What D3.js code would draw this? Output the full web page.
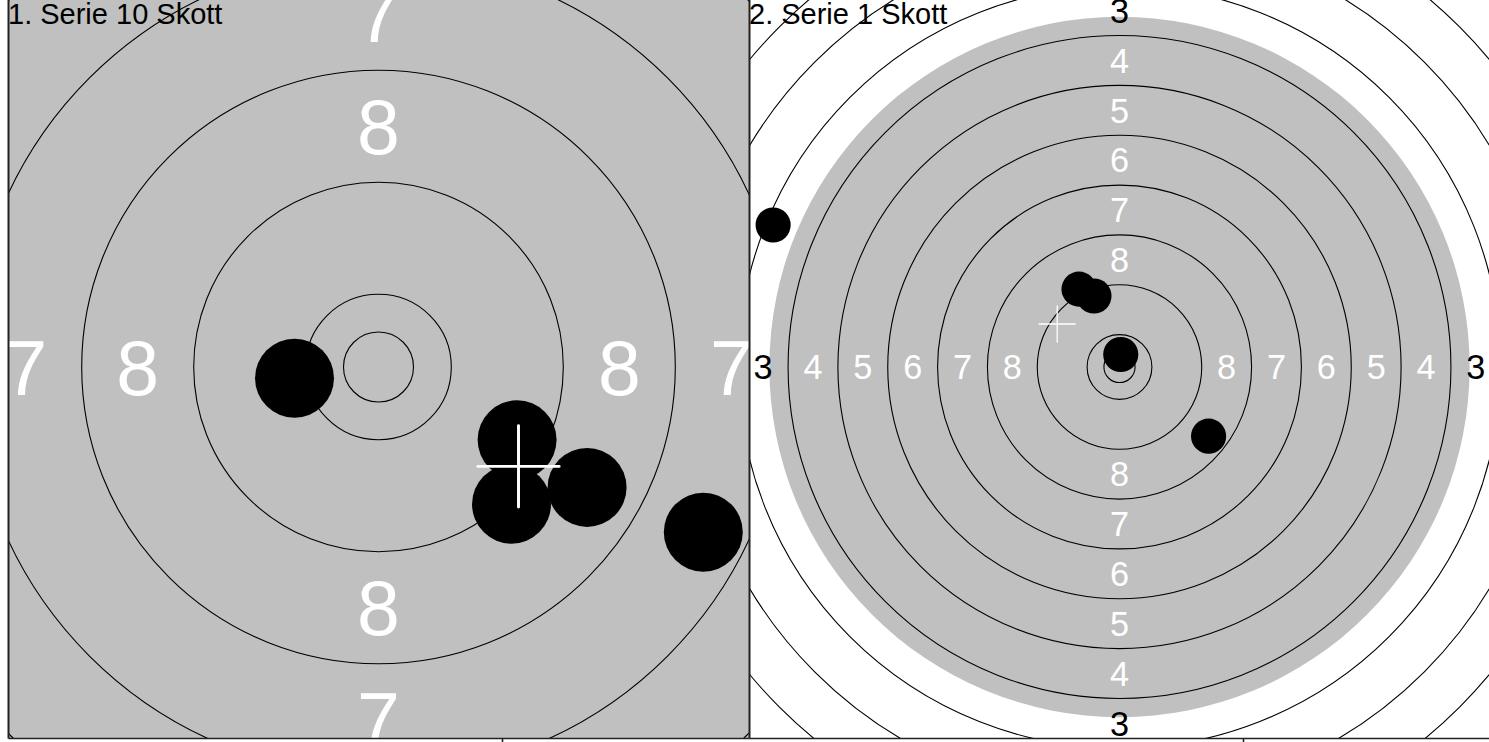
<!DOCTYPE html>
<html>
<head>
<meta charset="utf-8">
<script src="https://cdn.jsdelivr.net/npm/d3@7/dist/d3.min.js"></script>
<style>
  body { margin: 0; background: #fff; }
  svg { display: block; font-family: "Liberation Sans", Arial, sans-serif; }
  .ring { fill: none; stroke: #000; stroke-width: 1.1; }
  .axis path, .axis line { stroke: #222; }
</style>
</head>
<body>
<script>
// Serie titles, one per panel
var TITLES = ['1. Serie 10 Skott', '2. Serie 1 Skott'];

// Ring radii in mm (50 m rifle target), inner ten first, then 10 ... 1
var RING_RADII = [2.5, 5.2, 13.2, 21.2, 29.2, 37.2, 45.2, 53.2, 61.2, 69.2, 77.2];
var RING_VALUES = [null, 10, 9, 8, 7, 6, 5, 4, 3, 2, 1];
var BLACK_RADIUS = 56.2;          // aiming mark, drawn grey
var LABELED_RINGS = [8, 7, 6, 5, 4, 3, 2, 1];

// Shot positions in mm from the centre [x, y], y upwards
var SHOTS_1 = [[-6.0, -0.8], [9.9, -5.2], [9.5, -9.8], [14.9, -8.6], [23.2, -11.8]];
var SHOTS_2 = [[-55.6, 22.8], [-6.5, 12.5], [-4.1, 11.4], [0.2, 2.0], [14.3, -11.1]];
// Mean point of impact per serie
var MEAN_1 = [10.0, -7.1];
var MEAN_2 = [-10.0, 6.9];
var SHOT_RADIUS = 2.82;   // .22 cal hole
var CROSS_HALF = 2.9;

// bottom axis tick (labels fall below the visible area)
var AXIS_TICKS = [1];

(function () {
  var W = 1489, H = 742;
  var svg = d3.select('body').append('svg').attr('width', W).attr('height', H);

  var panels = [
    { title: TITLES[0], shots: SHOTS_1, mean: MEAN_1, k: 14.0, left: 8 },
    { title: TITLES[1], shots: SHOTS_2, mean: MEAN_2, k: 6.23, left: 749 }
  ];
  var pw = 741, plotTop = -4, plotBottom = 738;

  panels.forEach(function (p, i) {
    var halfW = pw / 2 / p.k, halfH = (plotBottom - plotTop) / 2 / p.k;
    var x = d3.scaleLinear().domain([-halfW, halfW]).range([p.left, p.left + pw]);
    var y = d3.scaleLinear().domain([-halfH, halfH]).range([plotBottom, plotTop]);
    var r = function (mm) { return mm * p.k; };

    var clipId = 'clip' + i;
    svg.append('clipPath').attr('id', clipId).append('rect')
      .attr('x', p.left).attr('y', 0).attr('width', pw).attr('height', plotBottom);

    var g = svg.append('g').attr('clip-path', 'url(#' + clipId + ')');

    // aiming mark
    g.append('circle').attr('cx', x(0)).attr('cy', y(0)).attr('r', r(BLACK_RADIUS))
      .attr('fill', '#c0c0c0');

    // rings
    g.selectAll('circle.ring').data(RING_RADII).join('circle').attr('class', 'ring')
      .attr('cx', x(0)).attr('cy', y(0)).attr('r', function (d) { return r(d); });

    // ring numbers, four directions
    var labelData = [];
    LABELED_RINGS.forEach(function (v) {
      var idx = RING_VALUES.indexOf(v);
      var mid = (RING_RADII[idx] + RING_RADII[idx - 1]) / 2;
      [[0, 1], [0, -1], [-1, 0], [1, 0]].forEach(function (dir) {
        labelData.push({ v: v, at: [dir[0] * mid, dir[1] * mid], inside: mid < BLACK_RADIUS });
      });
    });
    var fs = 5.5 * p.k;
    g.selectAll('text.ringlab').data(labelData).join('text').attr('class', 'ringlab')
      .attr('x', function (d) { return x(d.at[0]); })
      .attr('y', function (d) { return y(d.at[1]) + 0.358 * fs; })
      .attr('text-anchor', 'middle')
      .style('font-size', fs + 'px')
      .attr('fill', function (d) { return d.inside ? '#fff' : '#000'; })
      .text(function (d) { return d.v; });

    // shots
    g.selectAll('circle.shot').data(p.shots).join('circle').attr('class', 'shot')
      .attr('cx', function (d) { return x(d[0]); })
      .attr('cy', function (d) { return y(d[1]); })
      .attr('r', r(SHOT_RADIUS)).attr('fill', '#000');

    // mean point of impact
    var cw = r(0.21);
    g.append('line')
      .attr('x1', x(p.mean[0] - CROSS_HALF)).attr('x2', x(p.mean[0] + CROSS_HALF))
      .attr('y1', y(p.mean[1])).attr('y2', y(p.mean[1]))
      .attr('stroke', '#fff').attr('stroke-width', cw).attr('stroke-linecap', 'round');
    g.append('line')
      .attr('x1', x(p.mean[0])).attr('x2', x(p.mean[0]))
      .attr('y1', y(p.mean[1] - CROSS_HALF)).attr('y2', y(p.mean[1] + CROSS_HALF))
      .attr('stroke', '#fff').attr('stroke-width', cw).attr('stroke-linecap', 'round');

    // axes
    var ax = d3.scaleLinear().domain([0, 1.5]).range([p.left, p.left + pw]);
    svg.append('g').attr('class', 'axis').attr('transform', 'translate(0,' + plotBottom + ')')
      .call(d3.axisBottom(ax).tickValues(AXIS_TICKS).tickSize(5).tickSizeOuter(0).tickFormat(''))
      .selectAll('path, line').attr('stroke-width', 1.6);
    svg.append('g').attr('class', 'axis').attr('transform', 'translate(' + p.left + ',0)')
      .call(d3.axisLeft(y).tickValues([]).tickSizeOuter(0))
      .select('path').attr('stroke', '#000').attr('stroke-width', 2);

    // title
    svg.append('text').attr('x', p.left).attr('y', 24)
      .style('font-size', '29px').attr('fill', '#000').text(p.title);
  });
})();
</script>
</body>
</html>
